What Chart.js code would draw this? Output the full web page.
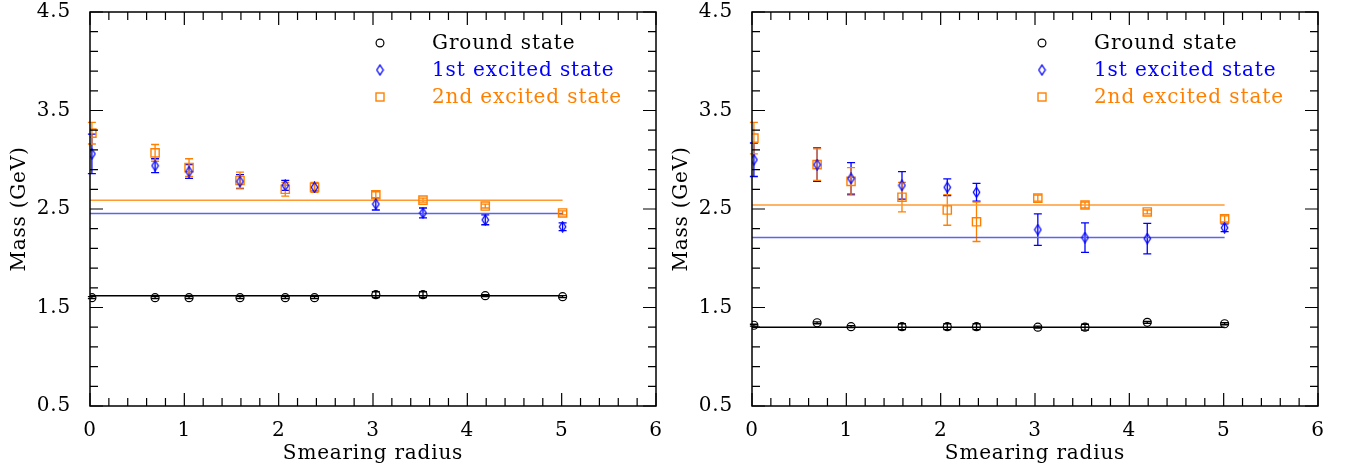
<!DOCTYPE html>
<html>
<head>
<meta charset="utf-8">
<script src="https://cdn.jsdelivr.net/npm/chart.js@4.4.0/dist/chart.umd.min.js"></script>
<style>
  body { margin: 0; background: #fff; width: 1348px; height: 472px; overflow: hidden; position: relative; }
  canvas { position: absolute; top: 0; }
  #left { left: 0; }
  #right { left: 662px; }
</style>
</head>
<body>
<canvas id="left" width="674" height="472"></canvas>
<canvas id="right" width="674" height="472"></canvas>
<script>
// smearing radii (same for both panels)
const radius = [0.02, 0.69, 1.05, 1.59, 2.07, 2.38, 3.03, 3.53, 4.19, 5.01];
const xTicks = [0, 1, 2, 3, 4, 5, 6];
const yTicks = [0.5, 1.5, 2.5, 3.5, 4.5];
const stateNames = ['Ground state', '1st excited state', '2nd excited state'];

// left panel
const leftGround = [1.60, 1.60, 1.60, 1.60, 1.60, 1.60, 1.63, 1.63, 1.62, 1.61];
const leftGroundErr = [0.01, 0.01, 0.01, 0.01, 0.01, 0.01, 0.03, 0.03, 0.01, 0.01];
const leftFirst = [3.06, 2.94, 2.88, 2.78, 2.74, 2.72, 2.55, 2.46, 2.39, 2.32];
const leftFirstErr = [0.20, 0.07, 0.07, 0.07, 0.05, 0.04, 0.06, 0.05, 0.05, 0.04];
const leftSecond = [3.27, 3.07, 2.92, 2.79, 2.70, 2.72, 2.645, 2.59, 2.53, 2.46];
const leftSecondErr = [0.11, 0.085, 0.09, 0.085, 0.07, 0.05, 0.03, 0.02, 0.02, 0.02];
const leftFits = [1.62, 2.455, 2.59];

// right panel
const rightGround = [1.32, 1.345, 1.305, 1.305, 1.305, 1.305, 1.30, 1.30, 1.35, 1.335];
const rightGroundErr = [0.01, 0.01, 0.01, 0.03, 0.03, 0.03, 0.01, 0.03, 0.01, 0.01];
const rightFirst = [3.00, 2.95, 2.81, 2.74, 2.72, 2.67, 2.29, 2.21, 2.20, 2.31];
const rightFirstErr = [0.17, 0.17, 0.16, 0.14, 0.085, 0.09, 0.16, 0.15, 0.155, 0.04];
const rightSecond = [3.22, 2.95, 2.78, 2.62, 2.49, 2.37, 2.61, 2.54, 2.47, 2.40];
const rightSecondErr = [0.16, 0.16, 0.14, 0.15, 0.155, 0.20, 0.03, 0.03, 0.02, 0.03];
const rightFits = [1.30, 2.21, 2.54];

const FONT = 'DejaVu Serif';
const colors = ['#000000', '#0000ff', '#ff8000'];
const fitColors = ['#000000', '#5866ee', '#ff9a33'];

// tall diamond marker
function makeDiamond(color) {
  const c = document.createElement('canvas');
  c.width = 9; c.height = 12;
  const g = c.getContext('2d');
  g.strokeStyle = color;
  g.lineWidth = 1.3;
  g.beginPath();
  g.moveTo(4.5, 1); g.lineTo(7.7, 6); g.lineTo(4.5, 11); g.lineTo(1.3, 6); g.closePath();
  g.stroke();
  return c;
}
const diamond = makeDiamond('#0000ff');
const markerStyles = [
  { pointStyle: 'circle', pointRadius: 4, pointBorderWidth: 1.2 },
  { pointStyle: diamond, pointRadius: 5, pointBorderWidth: 1.3 },
  { pointStyle: 'rect', pointRadius: 5.8, pointBorderWidth: 1.4 }
];

function pts(ys) { return radius.map((x, i) => ({ x: x, y: ys[i] })); }

// error bars under the points
const errorBars = {
  id: 'errorBars',
  beforeDatasetsDraw(chart) {
    const ctx = chart.ctx, xs = chart.scales.x, ys = chart.scales.y;
    chart.data.datasets.forEach((ds, i) => {
      if (!ds.errors) return;
      ctx.save();
      ctx.strokeStyle = ds.borderColor;
      ctx.lineWidth = 1.3;
      ds.data.forEach((p, j) => {
        const e = ds.errors[j];
        const px = xs.getPixelForValue(p.x);
        const top = ys.getPixelForValue(p.y + e);
        const bot = ys.getPixelForValue(p.y - e);
        ctx.beginPath();
        ctx.moveTo(px, top); ctx.lineTo(px, bot);
        ctx.moveTo(px - 4, top); ctx.lineTo(px + 4, top);
        ctx.moveTo(px - 4, bot); ctx.lineTo(px + 4, bot);
        ctx.stroke();
      });
      ctx.restore();
    });
  }
};

// boxed frame with inward ticks on all sides, plus legend
const frame = {
  id: 'frame',
  beforeDraw(chart) { chart.ctx.letterSpacing = '0.8px'; },
  afterDraw(chart) {
    const ctx = chart.ctx, a = chart.chartArea, xs = chart.scales.x, ys = chart.scales.y;
    ctx.save();
    ctx.strokeStyle = '#000';
    ctx.lineWidth = 1.5;
    ctx.strokeRect(a.left, a.top, a.right - a.left, a.bottom - a.top);
    ctx.lineWidth = 1.2;
    ctx.beginPath();
    for (let k = 0; k <= 30; k++) {
      const v = k * 0.2;
      const px = xs.getPixelForValue(v);
      const len = (k % 5 === 0) ? 13 : 8;
      ctx.moveTo(px, a.bottom); ctx.lineTo(px, a.bottom - len);
      ctx.moveTo(px, a.top); ctx.lineTo(px, a.top + len);
    }
    for (let k = 0; k <= 20; k++) {
      const v = 0.5 + k * 0.2;
      const py = ys.getPixelForValue(v);
      const len = (k % 5 === 0) ? 13 : 8;
      ctx.moveTo(a.left, py); ctx.lineTo(a.left + len, py);
      ctx.moveTo(a.right, py); ctx.lineTo(a.right - len, py);
    }
    ctx.stroke();

    // legend
    const mx = a.left + 290, tx = a.left + 342;
    ctx.font = '20px "' + FONT + '"';
    ctx.textBaseline = 'middle';
    ctx.letterSpacing = '0.9px';
    stateNames.forEach((name, i) => {
      const y = a.top + 31 + i * 27;
      ctx.strokeStyle = colors[i];
      ctx.lineWidth = 1.2;
      if (i === 0) {
        ctx.beginPath(); ctx.arc(mx, y, 3.9, 0, Math.PI * 2); ctx.stroke();
      } else if (i === 1) {
        ctx.drawImage(diamond, mx - 4.5, y - 6);
      } else {
        ctx.lineWidth = 1.4;
        ctx.strokeRect(mx - 4, y - 4, 8, 8);
      }
      ctx.fillStyle = colors[i];
      ctx.fillText(name, tx, y + 1);
    });
    ctx.restore();
  }
};

function makePanel(id, series, errs, fits) {
  const datasets = [];
  series.forEach((s, i) => {
    datasets.push(Object.assign({
      type: 'scatter',
      label: stateNames[i],
      data: pts(s),
      errors: errs[i],
      borderColor: colors[i],
      backgroundColor: 'rgba(0,0,0,0)',
      pointBorderColor: colors[i],
      pointBackgroundColor: 'rgba(0,0,0,0)',
      order: 0
    }, markerStyles[i]));
  });
  fits.forEach((f, i) => {
    datasets.push({
      type: 'line',
      label: stateNames[i] + ' fit',
      data: [{ x: 0, y: f }, { x: radius[radius.length - 1], y: f }],
      borderColor: fitColors[i],
      borderWidth: 1.5,
      pointRadius: 0,
      order: 1
    });
  });

  new Chart(document.getElementById(id), {
    type: 'scatter',
    data: { datasets: datasets },
    options: {
      responsive: false,
      animation: false,
      events: [],
      layout: { padding: { top: 12, right: 18, left: 0, bottom: 0 } },
      plugins: { legend: { display: false }, tooltip: { enabled: false } },
      scales: {
        x: {
          type: 'linear', min: 0, max: 6,
          afterFit: (s) => { s.height = 66; s.paddingLeft = 0; s.paddingRight = 0; },
          afterBuildTicks: (s) => { s.ticks = xTicks.map(v => ({ value: v })); },
          grid: { display: false, drawTicks: false },
          border: { display: false },
          ticks: { color: '#000', padding: 13, font: { family: FONT, size: 20 }, maxRotation: 0,
                   callback: (v) => String(v) },
          title: { display: true, text: 'Smearing radius', color: '#000',
                   font: { family: FONT, size: 20 }, padding: { top: 0, bottom: 6 } }
        },
        y: {
          type: 'linear', min: 0.5, max: 4.5,
          afterFit: (s) => { s.width = 90; s.paddingTop = 0; s.paddingBottom = 0; },
          afterBuildTicks: (s) => { s.ticks = yTicks.map(v => ({ value: v })); },
          grid: { display: false, drawTicks: false },
          border: { display: false },
          ticks: { color: '#000', padding: 19, font: { family: FONT, size: 20 },
                   callback: (v) => v.toFixed(1) },
          title: { display: true, text: 'Mass (GeV)', color: '#000',
                   font: { family: FONT, size: 20 }, padding: { top: 8, bottom: 0 } }
        }
      }
    },
    plugins: [errorBars, frame]
  });
}

makePanel('left',
  [leftGround, leftFirst, leftSecond],
  [leftGroundErr, leftFirstErr, leftSecondErr],
  leftFits);
makePanel('right',
  [rightGround, rightFirst, rightSecond],
  [rightGroundErr, rightFirstErr, rightSecondErr],
  rightFits);
</script>
</body>
</html>
